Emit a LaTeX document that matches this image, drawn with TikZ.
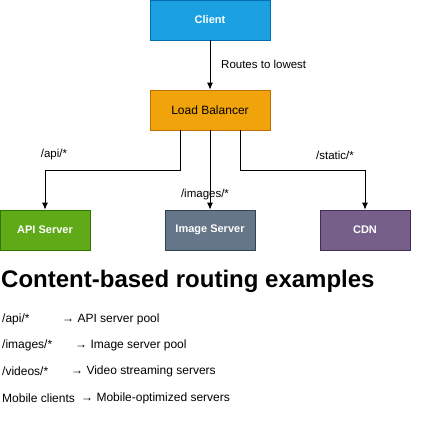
\documentclass[tikz,border=0pt]{standalone}
\usepackage{fontspec}
\setmainfont{Liberation Sans}
\usetikzlibrary{arrows.meta}
\definecolor{clientfill}{RGB}{27,161,226}
\definecolor{clientline}{RGB}{0,110,175}
\definecolor{lbfill}{RGB}{240,163,10}
\definecolor{lbline}{RGB}{189,112,0}
\definecolor{apifill}{RGB}{96,169,23}
\definecolor{apiline}{RGB}{45,118,0}
\definecolor{imgfill}{RGB}{100,118,135}
\definecolor{imgline}{RGB}{49,67,84}
\definecolor{cdnfill}{RGB}{118,96,138}
\definecolor{cdnline}{RGB}{67,45,87}
\begin{document}
\begin{tikzpicture}[x=1pt, y=-1pt,
				>={Latex[length=7pt, width=6pt]},   %arrow tips
				box/.style={draw, line width=0.8pt, minimum width=120pt, minimum height=40pt, inner sep=0pt, font=\fontsize{12}{14}\selectfont},
				srv/.style={box, minimum width=90pt, text=white, font=\fontsize{11}{13}\selectfont\bfseries},
				lbl/.style={inner sep=0pt, font=\fontsize{11.5}{13}\selectfont},
				item/.style={anchor=west, inner sep=0pt, font=\fontsize{12}{14}\selectfont}]
				% page frame
				\useasboundingbox (0,0) rectangle (421,424);
				% boxes
				\node[srv, minimum width=120pt, fill=clientfill, draw=clientline] (client) at (210,20) {Client};
				\node[box, fill=lbfill, draw=lbline] (lb) at (210,110) {Load Balancer};
				\node[srv, fill=apifill, draw=apiline] (api) at (45,230) {API Server};
				\node[srv, fill=imgfill, draw=imgline] (img) at (210,230) {Image Server};
				\node[srv, fill=cdnfill, draw=cdnline] (cdn) at (365,230) {CDN};
				% connectors
				\draw[->, thick] (client) -- (lb);
				\draw[->, thick] ([xshift=-30pt]lb.south) -- ++(0,40) -| (api.north);
				\draw[->, thick] (lb) -- (img);
				\draw[->, thick] ([xshift=30pt]lb.south) -- ++(0,40) -| (cdn.north);
				% labels
				\node[lbl, anchor=west] (lowest) at (221,64) {Routes to lowest};
				\node[lbl] (apilbl) at (54,155) {/api/*};
				\node[lbl] (imglbl) at (205,195) {/images/*};
				\node[lbl] (cdnlbl) at (335,155) {/static/*};
				% examples
				\node[anchor=west, inner sep=0pt, font=\fontsize{24}{28}\selectfont\bfseries] (title) at (1,281) {Content-based routing examples};
				\node[item] (k1) at (2,319) {/api/*};
				\node[item] (v1) at (62,319) {→ API server pool};
				\node[item] (k2) at (2,345) {/images/*};
				\node[item] (v2) at (75,345) {→ Image server pool};
				\node[item] (k3) at (2,371) {/videos/*};
				\node[item] (v3) at (71,371) {→ Video streaming servers};
				\node[item] (k4) at (2,398) {Mobile clients};
				\node[item] (v4) at (81,398) {→ Mobile-optimized servers};
			\end{tikzpicture}
\end{document}
